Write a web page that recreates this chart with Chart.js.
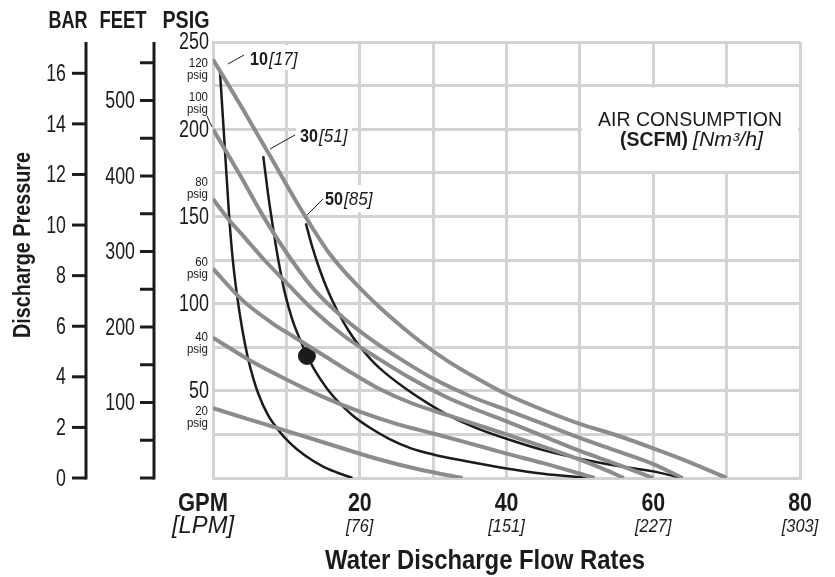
<!DOCTYPE html>
<html lang="en">
<head>
  <meta charset="UTF-8" />
  <title>Pump performance curve</title>
  <script src="https://cdn.jsdelivr.net/npm/chart.js"></script>
  <style>
    html, body { margin: 0; padding: 0; background: #fff; }
    #wrap { width: 835px; height: 577px; position: relative; }
  </style>
</head>
<body>
  <div id="wrap"><canvas id="pumpChart"></canvas></div>
  <script>
    // air inlet pressure curves (grey): flow in GPM, discharge in psig
    const gpm120 = [0, 4, 8, 12, 16, 20, 24, 28, 32, 36, 40, 45, 50, 55, 60, 65, 70];
    const psi120 = [240, 212, 183, 154, 128, 109, 93, 79, 67, 57, 48, 39, 31, 24.5, 17, 9, 0];
    const gpm100 = [0, 3.5, 7, 10.7, 14, 18, 22, 26, 30, 35, 40, 45, 50, 55, 60, 64];
    const psi100 = [200, 175, 149, 125, 107, 91, 78, 67, 57, 47, 39, 31, 23, 15.5, 8, 0];
    const gpm80 = [0, 2, 4.5, 7, 10, 14, 18, 22.7, 27, 32, 36, 40, 45, 50, 55, 60];
    const psi80 = [160, 149, 137, 125, 112, 95, 81, 68, 57, 46, 39, 32.5, 24, 15.5, 8, 0];
    const gpm60 = [0, 4, 8, 11, 15, 19, 22.7, 27, 32, 36, 40, 45, 50, 53, 56];
    const psi60 = [120, 102, 89, 81, 70.5, 60, 51, 43, 36, 30.5, 25, 18, 10.5, 5.5, 0];
    const gpm40 = [0, 5, 10, 15, 20, 25, 30, 34, 40, 45, 52];
    const psi40 = [80.5, 67.5, 56.5, 46.5, 38, 31, 25.5, 21, 14, 8.5, 0];
    const gpm20 = [0, 5, 10, 15, 22.7, 28, 34];
    const psi20 = [40, 33.5, 27, 20.5, 10.6, 5, 0];

    // air consumption curves (black), SCFM
    const gpmScfm10 = [0.95, 1.6, 2.2, 2.7, 3.3, 4.0, 4.7, 5.5, 6.2, 7.5, 9, 10.5, 12.5, 15, 17, 19];
    const psiScfm10 = [233, 190, 150, 125, 104, 85, 70, 57, 48, 36, 27, 20, 13, 6.5, 3, 0];
    const gpmScfm30 = [6.85, 7.5, 8.2, 8.9, 9.8, 10.8, 11.8, 12.8, 13.9, 15.5, 17, 19, 21.5, 24, 27, 30, 34, 40, 45, 51];
    const psiScfm30 = [184.6, 163, 143, 125, 106, 91, 80, 70.5, 61.5, 51.5, 44, 36, 28.5, 22.5, 17, 13.5, 10, 5.5, 2.5, 0];
    const gpmScfm50 = [12.65, 13.5, 14.5, 15.7, 17, 18.4, 19.8, 21.5, 22.7, 26, 29.4, 32.3, 36, 40, 45, 50, 55, 60, 64];
    const psiScfm50 = [146, 133, 120, 107, 95.5, 85, 76.5, 68, 63, 52, 42.5, 35.5, 28.5, 22.5, 16, 11, 7, 3.8, 0];

    const dotGpm = [12.8];
    const dotPsi = [70];

    const xTicks = [20, 40, 60, 80];
    const xTicksLpm = ['[76]', '[151]', '[227]', '[303]'];
    const psiLabels = [250, 200, 150, 100, 50];
    const barTicks = [0, 2, 4, 6, 8, 10, 12, 14, 16];
    const feetTicks = [0, 50, 100, 150, 200, 250, 300, 350, 400, 450, 500, 550];
    const feetLabels = [100, 200, 300, 400, 500];
    const airLabels = ['120', '100', '80', '60', '40', '20'];
    const scfmLabels = [['10', '[17]'], ['30', '[51]'], ['50', '[85]']];

    const PSI_PER_BAR = 14.5038;
    const FT_PER_PSI = 2.31;
    const GRAY = '#8c8c8c';
    const GRID = '#d3d3d3';
    const INK = '#1b1b1b';
    const FAM = '"Liberation Sans", Arial, sans-serif';

    function pts(xs, ys) { return xs.map((x, i) => ({ x: x, y: ys[i] })); }

    function txt(ctx, s, x, y, size, o) {
      o = o || {};
      ctx.save();
      ctx.font = (o.style || 'normal') + ' ' + (o.weight || 'normal') + ' ' + size + 'px ' + FAM;
      ctx.fillStyle = INK;
      ctx.textAlign = o.align || 'left';
      ctx.textBaseline = o.base || 'alphabetic';
      let sx = o.sx || 1;
      if (o.fit) sx = o.fit / ctx.measureText(s).width;
      ctx.translate(x, y);
      if (o.rot) ctx.rotate(o.rot);
      ctx.scale(sx, 1);
      ctx.fillText(s, 0, 0);
      const w = ctx.measureText(s).width * sx;
      ctx.restore();
      return w;
    }

    function line(ctx, x1, y1, x2, y2, w, c) {
      ctx.save();
      ctx.strokeStyle = c || INK;
      ctx.lineWidth = w;
      ctx.beginPath();
      ctx.moveTo(x1, y1);
      ctx.lineTo(x2, y2);
      ctx.stroke();
      ctx.restore();
    }

    const labelBoxes = {
      id: 'labelBoxes',
      beforeDatasetsDraw(chart) {
        const ctx = chart.ctx, x = chart.scales.x, y = chart.scales.y;
        ctx.save();
        ctx.fillStyle = '#fff';
        // legend box covers the grid cells behind it
        ctx.fillRect(x.getPixelForValue(50) + 2, y.getPixelForValue(225) + 2,
          x.getPixelForValue(80) - x.getPixelForValue(50) - 4, y.getPixelForValue(175) - y.getPixelForValue(225) - 4);
        ctx.fillRect(246, 45, 60, 25);
        ctx.fillRect(296, 119, 56, 28);
        ctx.fillRect(321, 185, 58, 27);
        ctx.restore();
      }
    };

    const sideAxes = {
      id: 'sideAxes',
      afterDraw(chart) {
        const ctx = chart.ctx, x = chart.scales.x, y = chart.scales.y;
        const top = y.getPixelForValue(250), bot = y.getPixelForValue(0);

        // column titles
        txt(ctx, 'BAR', 68, 28, 24, { weight: 'bold', align: 'center', fit: 39 });
        txt(ctx, 'FEET', 123, 28, 24, { weight: 'bold', align: 'center', fit: 47 });
        txt(ctx, 'PSIG', 186, 28, 24, { weight: 'bold', align: 'center', fit: 47 });

        // bar axis
        line(ctx, 86, top, 86, bot + 1.5, 3);
        barTicks.forEach(b => {
          const py = y.getPixelForValue(b * PSI_PER_BAR);
          line(ctx, 72, py, 86, py, 3);
          txt(ctx, String(b), 66, py + 1, 24, { align: 'right', base: 'middle', sx: 0.74 });
        });

        // feet axis
        line(ctx, 154, top, 154, bot + 1.5, 3);
        feetTicks.forEach(f => {
          const py = y.getPixelForValue(f / FT_PER_PSI);
          line(ctx, 140, py, 154, py, 3);
        });
        feetLabels.forEach(f => {
          const py = y.getPixelForValue(f / FT_PER_PSI);
          txt(ctx, String(f), 135, py + 1, 24, { align: 'right', base: 'middle', sx: 0.74 });
        });

        // psig labels
        psiLabels.forEach(p => {
          txt(ctx, String(p), 209, y.getPixelForValue(p) + 1, 23, { align: 'right', base: 'middle', sx: 0.78 });
        });

        // air pressure labels beside each grey curve start
        const starts = [psi120[0], psi100[0], psi80[0], psi60[0], psi40[0], psi20[0]];
        const offs = [8, -28, -13, -3, 3, 7];
        airLabels.forEach((s, i) => {
          const py = y.getPixelForValue(starts[i]) + offs[i];
          txt(ctx, s, 208, py, 12.5, { align: 'right', sx: 0.92 });
          txt(ctx, 'psig', 208, py + 12, 12.5, { align: 'right', sx: 0.92 });
        });
        line(ctx, 207, 116, 212, 127, 1);

        txt(ctx, 'Discharge Pressure', 30, 245, 23, { weight: 'bold', align: 'center', rot: -Math.PI / 2, fit: 186 });

        // flow axis labels
        xTicks.forEach((g, i) => {
          const px = x.getPixelForValue(g);
          txt(ctx, String(g), px, 511, 26, { weight: 'bold', align: 'center', sx: 0.82 });
          txt(ctx, xTicksLpm[i], px, 532, 19, { style: 'italic', align: 'center', sx: 0.86 });
        });
        txt(ctx, 'GPM', 203, 511, 26, { weight: 'bold', align: 'center', fit: 50 });
        txt(ctx, '[LPM]', 203, 533, 24, { style: 'italic', align: 'center', fit: 62 });
        txt(ctx, 'Water Discharge Flow Rates', 485, 569, 28, { weight: 'bold', align: 'center', fit: 320 });

        // air consumption legend
        txt(ctx, 'AIR CONSUMPTION', 690, 126, 20, { align: 'center', fit: 184 });
        const w1 = txt(ctx, '(SCFM)', 620, 146, 20, { weight: 'bold', fit: 68 });
        txt(ctx, '[Nm\u00B3/h]', 620 + w1 + 5, 146, 20, { style: 'italic', fit: 70 });

        // SCFM curve tags with leaders
        const tags = [
          { lx: 250, ly: 65, l: [228, 64, 244, 55] },
          { lx: 300, ly: 142, l: [270, 149, 295, 135] },
          { lx: 325, ly: 205, l: [307, 215, 323, 199] }
        ];
        tags.forEach((t, i) => {
          line(ctx, t.l[0], t.l[1], t.l[2], t.l[3], 1);
          const w = txt(ctx, scfmLabels[i][0], t.lx, t.ly, 19, { weight: 'bold', sx: 0.85 });
          txt(ctx, scfmLabels[i][1], t.lx + w + 1, t.ly, 19, { style: 'italic', sx: 0.9 });
        });
      }
    };

    const grey = (xs, ys) => ({ data: pts(xs, ys), borderColor: GRAY, borderWidth: 4, showLine: true,
      pointRadius: 0, cubicInterpolationMode: 'monotone', borderCapStyle: 'butt' });
    const black = (xs, ys) => ({ data: pts(xs, ys), borderColor: INK, borderWidth: 2.5, showLine: true,
      pointRadius: 0, cubicInterpolationMode: 'monotone', borderCapStyle: 'butt' });

    new Chart(document.getElementById('pumpChart'), {
      type: 'scatter',
      data: {
        datasets: [
          grey(gpm120, psi120), grey(gpm100, psi100), grey(gpm80, psi80),
          grey(gpm60, psi60), grey(gpm40, psi40), grey(gpm20, psi20),
          black(gpmScfm10, psiScfm10), black(gpmScfm30, psiScfm30), black(gpmScfm50, psiScfm50),
          { data: pts(dotGpm, dotPsi), pointRadius: 8.5, backgroundColor: INK, borderColor: INK, showLine: false }
        ]
      },
      options: {
        responsive: true,
        maintainAspectRatio: false,
        animation: false,
        devicePixelRatio: 1,
        layout: { padding: { left: 213, right: 35, top: 42, bottom: 99 } },
        plugins: { legend: { display: false }, tooltip: { enabled: false } },
        scales: {
          x: {
            type: 'linear', min: 0, max: 80,
            ticks: { display: false, stepSize: 10 },
            grid: { color: GRID, lineWidth: 3, drawTicks: false },
            border: { color: GRID, width: 3 }
          },
          y: {
            type: 'linear', min: 0, max: 250,
            ticks: { display: false, stepSize: 25 },
            grid: { color: GRID, lineWidth: 3, drawTicks: false },
            border: { color: GRID, width: 3 }
          }
        }
      },
      plugins: [labelBoxes, sideAxes]
    });
  </script>
</body>
</html>
